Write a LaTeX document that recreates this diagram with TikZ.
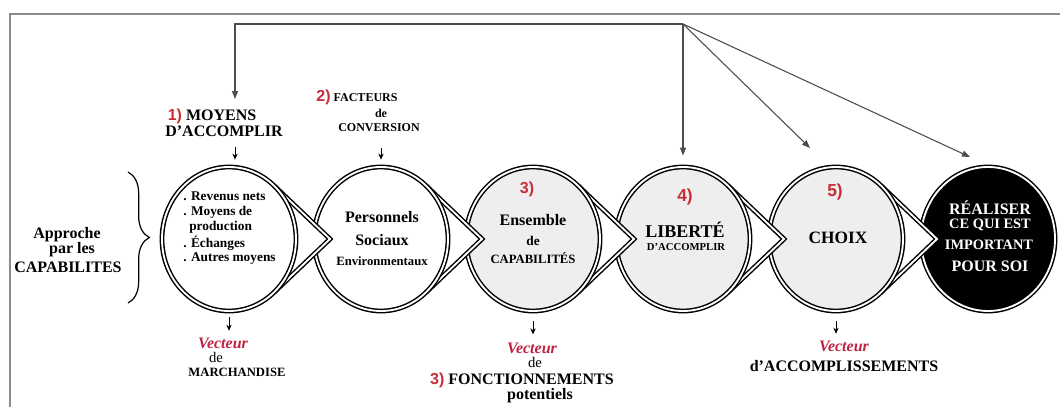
\documentclass[tikz,border=0pt]{standalone}
\usepackage{fontspec}
\setmainfont{Liberation Serif}
\newfontfamily\numfont{Liberation Sans}
\usetikzlibrary{shapes.geometric,decorations.pathreplacing,arrows.meta,calc}
\definecolor{numred}{RGB}{200,45,55}
\definecolor{vecred}{RGB}{190,35,65}
\definecolor{ringfill}{RGB}{238,238,238}
\newcommand\fsz[1]{\fontsize{#1}{#1}\selectfont}
\newcommand\nb[1]{{\numfont\color{numred}#1}}

\begin{document}
\begin{tikzpicture}[x=0.75pt,y=-0.75pt,
  stage/.style={ellipse,draw=black,double=white,line width=1.1pt,double distance=1.4pt,minimum width=100.5pt,minimum height=108pt,inner sep=0pt},
  chevron/.style={fill=white,draw=black,double=white,line width=1.1pt,double distance=1.4pt,line join=miter},
  fb/.style={black!70,line width=0.8pt,-{Triangle[length=6pt,width=4.5pt]}},
  tick/.style={black,line width=0.6pt,-{Stealth[length=4.5pt,width=4pt]}},
  txt/.style={inner sep=0pt,font=\bfseries\fsz{#1}},
  plain/.style={inner sep=0pt,font=\fsz{#1}},
  vec/.style={inner sep=0pt,font=\bfseries\itshape\fsz{12},text=vecred},
]
\useasboundingbox (0,0) rectangle (1060,407);
\draw[black!45,line width=2.2pt] (10,407) -- (10,14) -- (1060,14);

% stages, drawn from right to left
\coordinate (p1) at (229,239);
\coordinate (p2) at (381,239);
\coordinate (p3) at (533,239);
\coordinate (p4) at (683,239);
\coordinate (p5) at (836,239);
\coordinate (p6) at (988,239);
\node[stage,fill=black] (c6) at (p6) {};
\filldraw[chevron] ($(p5)+(44.5,-53.8)$) -- ($(p5)+(101,0)$) -- ($(p5)+(44.5,53.8)$);
\node[stage,fill=ringfill] (c5) at (p5) {};
\filldraw[chevron] ($(p4)+(44.5,-53.8)$) -- ($(p4)+(101,0)$) -- ($(p4)+(44.5,53.8)$);
\node[stage,fill=ringfill] (c4) at (p4) {};
\filldraw[chevron] ($(p3)+(44.5,-53.8)$) -- ($(p3)+(101,0)$) -- ($(p3)+(44.5,53.8)$);
\node[stage,fill=ringfill] (c3) at (p3) {};
\filldraw[chevron] ($(p2)+(44.5,-53.8)$) -- ($(p2)+(101,0)$) -- ($(p2)+(44.5,53.8)$);
\node[stage,fill=white] (c2) at (p2) {};
\filldraw[chevron] ($(p1)+(44.5,-53.8)$) -- ($(p1)+(101,0)$) -- ($(p1)+(44.5,53.8)$);
\node[stage,fill=white] (c1) at (p1) {};

% left label and brace
\node[txt=12] (appr1) at (67,235) {Approche};
\node[txt=12] (appr2) at (72,250) {par les};
\node[txt=12] (appr3) at (68,267) {CAPABILITES};
\draw[line width=0.9pt,decorate,decoration={brace,amplitude=16pt}] (128,172) -- (128,303);

% top labels
\node[txt=12] (moy1) at (212,116) {\nb{1)} MOYENS};
\node[txt=12] (moy2) at (224,131) {D'ACCOMPLIR};
\node[txt=9] (conv1) at (357,97) {\nb{\fsz{12}2)} FACTEURS};
\node[txt=9] (conv2) at (381,113) {de};
\node[txt=9] (conv3) at (379,128) {CONVERSION};

% feedback lines
\coordinate (fba) at (683,24);
\coordinate (fbl) at (235,24);
\coordinate (t1) at (235,99);
\coordinate (t5) at (810,148);
\coordinate (t6) at (970,157);
\draw[fb] (fba) -- (fbl) -- (t1);
\draw[fb,shorten >=8pt] (fba) -- (c4.north);
\draw[fb] (fba) -- (t5);
\draw[fb] (fba) -- (t6);
\draw[tick,shorten <=8pt,shorten >=5pt] (moy2.south -| t1) -- (c1.north -| t1);
\draw[tick,shorten <=12pt,shorten >=5pt] (conv3.south -| c2) -- (c2.north);

% text in the stages
\node[txt=10,anchor=west] (r1) at (183,196) {. Revenus nets};
\node[txt=10,anchor=west] (r2) at (183,212) {. Moyens de};
\node[txt=10,anchor=west] (r3) at (189,227) {production};
\node[txt=10,anchor=west] (r4) at (183,243) {. Échanges};
\node[txt=10,anchor=west] (r5) at (183,259) {. Autres moyens};
\node[txt=12] (s1) at (382,217) {Personnels};
\node[txt=12] (s2) at (382,240) {Sociaux};
\node[txt=9.5] (s3) at (382,261) {Environmentaux};
\node[txt=12] (e0) at (527,189) {\nb{3)}};
\node[txt=12] (e1) at (533,220) {Ensemble};
\node[txt=10] (e2) at (533,241) {de};
\node[txt=9.5] (e3) at (533,258) {CAPABILITÉS};
\node[txt=13] (l0) at (685,197) {\nb{4)}};
\node[txt=13.5] (l1) at (685,230) {LIBERTÉ};
\node[txt=8] (l2) at (686,247) {D'ACCOMPLIR};
\node[txt=13] (h0) at (835,192) {\nb{5)}};
\node[txt=13] (h1) at (838,238) {CHOIX};
\node[txt=12,text=white] (w1) at (990,208) {RÉALISER};
\node[txt=10.8,text=white] (w2) at (990,225) {CE QUI EST};
\node[txt=10.8,text=white] (w3) at (989,245) {IMPORTANT};
\node[txt=12,text=white] (w4) at (990,266) {POUR SOI};

% outputs below
\node[vec] (v1) at (223,343) {Vecteur};
\node[plain=11] (v1b) at (216,357) {de};
\node[txt=9.5] (v1c) at (237,372) {MARCHANDISE};
\node[vec] (v3) at (532,348) {Vecteur};
\node[plain=11] (v3b) at (535,362) {de};
\node[txt=12] (v3c) at (522,380) {\nb{3)} FONCTIONNEMENTS};
\node[txt=12] (v3d) at (540,396) {potentiels};
\node[vec] (v5) at (844,346) {Vecteur};
\node[txt=12] (v5b) at (844,366) {d'ACCOMPLISSEMENTS};
\draw[tick,shorten <=4pt,shorten >=5pt] (c1.south) -- (c1.south |- v1.north);
\draw[tick,shorten <=7pt,shorten >=6pt] (c3.south) -- (c3.south |- v3.north);
\draw[tick,shorten <=7pt,shorten >=5pt] (c5.south) -- (c5.south |- v5.north);
\end{tikzpicture}
\end{document}
